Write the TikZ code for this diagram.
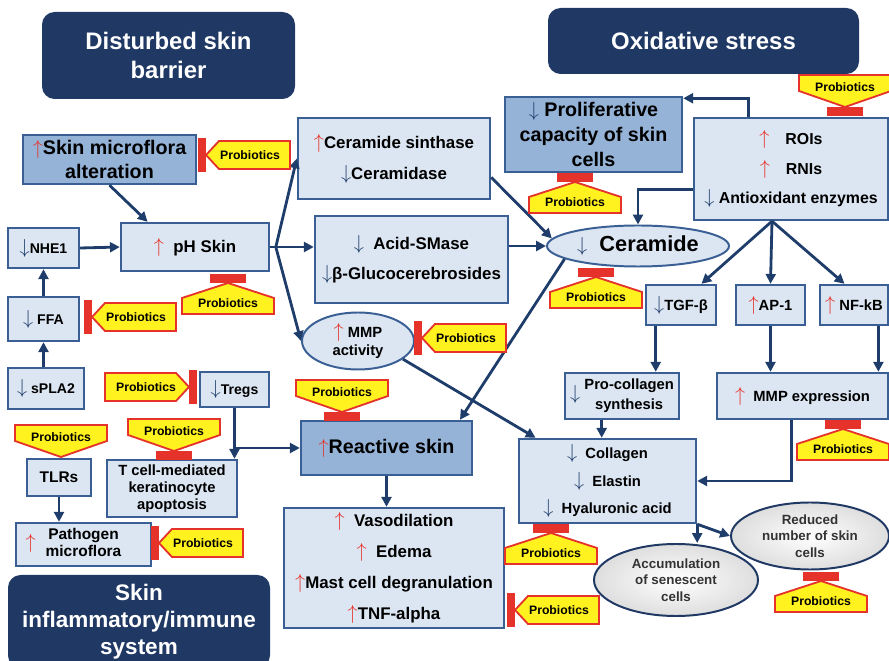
\documentclass[tikz,border=0pt]{standalone}
\usepackage{fontspec}
\setmainfont{Liberation Sans}
\usetikzlibrary{arrows.meta,shapes.geometric}

\definecolor{navy}{HTML}{1F3864}
\definecolor{boxline}{HTML}{3A5F94}
\definecolor{boxfill}{HTML}{DCE6F2}
\definecolor{boxdark}{HTML}{95B3D7}
\definecolor{connline}{HTML}{1F3D6B}
\definecolor{tagyellow}{HTML}{FFF21F}
\definecolor{tagred}{HTML}{E5322A}

\newcommand{\px}{0.025cm}
\newcommand{\upar}{{\color{tagred}\fontsize{14.4}{14.4}\selectfont$\uparrow$}}
\newcommand{\dnar}{{\color{connline}\fontsize{14.4}{14.4}\selectfont$\downarrow$}}

\tikzset{
		lbox/.style     = {shape=rectangle, draw=boxline, line width=1.7pt,
				fill=boxfill, align=center, inner sep=1pt,
				font=\fontsize{12}{14}\selectfont\bfseries},
		dbox/.style     = {lbox, fill=boxdark, font=\fontsize{14}{17}\selectfont\bfseries},
		oval/.style     = {ellipse, draw=boxline, line width=1.4pt, fill=boxfill,
				align=center, inner sep=0pt},
		greyoval/.style = {ellipse, draw=navy, line width=1.4pt, inner color=white,
				outer color=black!13, align=center, inner sep=0pt, text=black!80,
				font=\fontsize{9.5}{11.7}\selectfont\bfseries},
		header/.style   = {rounded corners=9pt, fill=navy, text=white, align=center,
				font=\fontsize{17}{20.5}\selectfont\bfseries},
		conn/.style     = {draw=connline, line width=2pt, -{Triangle[length=7pt,width=7pt]}},
		plain/.style    = {draw=connline, line width=2pt},
		probtag/.style  = {draw=tagred, line width=1.3pt, fill=tagyellow},
		inhib/.style    = {fill=tagred},
		probtext/.style = {inner sep=0pt, font=\fontsize{8.7}{10}\selectfont\bfseries}
	}

% probiotics tags: name, tip x, tip y
\newcommand{\probL}[3]{%
	\fill[inhib] (#2-8,#3-17) rectangle (#2,#3+17);
	\draw[probtag] (#2,#3) -- (#2+13,#3-14) -- (#2+84,#3-14) -- (#2+84,#3+14) -- (#2+13,#3+14) -- cycle;
	\node[probtext] (#1) at (#2+44,#3) {Probiotics};}
\newcommand{\probR}[3]{%
	\fill[inhib] (#2,#3-17) rectangle (#2+8,#3+17);
	\draw[probtag] (#2,#3) -- (#2-13,#3-14) -- (#2-84,#3-14) -- (#2-84,#3+14) -- (#2-13,#3+14) -- cycle;
	\node[probtext] (#1) at (#2-43,#3) {Probiotics};}
\newcommand{\probU}[3]{%
	\fill[inhib] (#2-18,#3-9) rectangle (#2+18,#3);
	\draw[probtag] (#2,#3) -- (#2+46,#3+15) -- (#2+46,#3+31) -- (#2-46,#3+31) -- (#2-46,#3+15) -- cycle;
	\node[probtext] (#1) at (#2,#3+20) {Probiotics};}
\newcommand{\probDtag}[3]{%
	\draw[probtag] (#2,#3) -- (#2+46,#3-16) -- (#2+46,#3-32) -- (#2-46,#3-32) -- (#2-46,#3-16) -- cycle;
	\node[probtext] (#1) at (#2,#3-20) {Probiotics};}
\newcommand{\probD}[3]{%
	\fill[inhib] (#2-18,#3) rectangle (#2+18,#3+9);
	\probDtag{#1}{#2}{#3}}

\begin{document}
\begin{tikzpicture}[x=\px, y=-\px]
		\useasboundingbox (0,0) rectangle (889,661);
		\clip (0,0) rectangle (889,661);

		% headers
		\node[header, minimum width=253*\px, minimum height=87*\px] (hdrbarrier) at (168.5,55.5) {Disturbed skin\\barrier};
		\node[header, minimum width=311*\px, minimum height=66*\px] (hdroxid) at (703.5,41) {Oxidative stress};
		\node[header, minimum width=262*\px, minimum height=93*\px,
			font=\fontsize{16}{19}\selectfont\bfseries] (hdrimmune) at (139,621.5) {Skin\\inflammatory/immune\\system};

		% disturbed skin barrier
		\node[dbox, minimum width=173*\px, minimum height=49*\px] (micro) at (109.5,159.5) {\upar Skin microflora\\alteration};
		\node[lbox, minimum width=71*\px, minimum height=40*\px, font=\fontsize{10}{12}\selectfont\bfseries] (nhe) at (43.5,248) {\dnar NHE1};
		\node[lbox, minimum width=148*\px, minimum height=48*\px] (ph) at (195,247) {\upar\ \ pH Skin};
		\node[lbox, minimum width=71*\px, minimum height=44*\px, font=\fontsize{10}{12}\selectfont\bfseries] (ffa) at (43.5,319) {\dnar\ FFA};
		\node[lbox, minimum width=76*\px, minimum height=41*\px, font=\fontsize{10}{12}\selectfont\bfseries] (spla) at (46,388.5) {\dnar\ sPLA2};
		\node[lbox, minimum width=192*\px, minimum height=81*\px] (cersyn) at (394,158.5) {\upar Ceramide sinthase\\[8pt]\dnar Ceramidase};
		\node[lbox, minimum width=193*\px, minimum height=87*\px] (acid) at (411.5,259.5) {\dnar\ \ Acid-SMase\\[7pt]\dnar β-Glucocerebrosides};
		\node[oval, minimum width=112*\px, minimum height=57*\px, font=\fontsize{10.5}{12.5}\selectfont\bfseries] (mmpact) at (358,341) {\upar\ MMP\\activity};

		% skin inflammatory/immune system
		\node[lbox, minimum width=69*\px, minimum height=35*\px, font=\fontsize{10}{12}\selectfont\bfseries] (tregs) at (234.5,389.5) {\dnar Tregs};
		\node[lbox, minimum width=64*\px, minimum height=37*\px, font=\fontsize{11}{13}\selectfont\bfseries] (tlrs) at (59,477.5) {TLRs};
		\node[lbox, minimum width=130*\px, minimum height=57*\px, font=\fontsize{10.5}{12}\selectfont\bfseries] (tcell) at (172,488.5) {T cell-mediated\\keratinocyte\\apoptosis};
		\node[lbox, minimum width=135*\px, minimum height=43*\px, font=\fontsize{11}{12.5}\selectfont\bfseries] (pathog) at (83.5,544.5)
			{\llap{\upar\hspace{7pt}}\begin{tabular}{@{}c@{}}Pathogen\\microflora\end{tabular}};
		\node[dbox, minimum width=171*\px, minimum height=54*\px] (react) at (386.5,448) {\upar Reactive skin};
		\node[lbox, minimum width=220*\px, minimum height=120*\px] (vaso) at (394,568)
			{\upar\ \ Vasodilation\\[8pt]\upar\ \ Edema\\[8pt]\upar Mast cell degranulation\\[8pt]\upar TNF-alpha};

		% oxidative stress
		\node[dbox, minimum width=177*\px, minimum height=75*\px, font=\fontsize{14}{17.5}\selectfont\bfseries] (prolif) at (593.5,134.5) {\dnar\ Proliferative\\capacity of skin\\cells};
		\node[lbox, minimum width=194*\px, minimum height=102*\px, font=\fontsize{11.3}{14}\selectfont\bfseries] (rois) at (791,169)
			{\upar\quad ROIs\\[7pt]\upar\quad RNIs\\[7pt]\dnar\ Antioxidant enzymes};
		\node[oval, minimum width=182*\px, minimum height=41*\px, font=\fontsize{15.5}{18}\selectfont\bfseries] (cer) at (638,246) {\dnar\ \ Ceramide};
		\node[lbox, minimum width=70*\px, minimum height=40*\px, font=\fontsize{10.5}{12.5}\selectfont\bfseries] (tgf) at (681,305) {\dnar TGF-β};
		\node[lbox, minimum width=69*\px, minimum height=40*\px, font=\fontsize{10.5}{12.5}\selectfont\bfseries] (apone) at (770.5,305) {\upar AP-1};
		\node[lbox, minimum width=68*\px, minimum height=40*\px, font=\fontsize{10.5}{12.5}\selectfont\bfseries] (nfkb) at (854,305) {\upar\ NF-kB};
		\node[lbox, minimum width=114*\px, minimum height=46*\px, font=\fontsize{10.5}{12.5}\selectfont\bfseries] (procol) at (622,396)
			{\dnar\ \begin{tabular}{@{}c@{}}Pro-collagen\\[2pt]synthesis\end{tabular}};
		\node[lbox, minimum width=171*\px, minimum height=46*\px, font=\fontsize{10.5}{12.5}\selectfont\bfseries] (mmpexp) at (802.5,396) {\upar\ \ MMP expression};
		\node[lbox, minimum width=177*\px, minimum height=84*\px, font=\fontsize{10.5}{12.6}\selectfont\bfseries] (col) at (607.5,481)
			{\dnar\ \ Collagen\\[6pt]\dnar\ \ Elastin\\[6pt]\dnar\ \ Hyaluronic acid};
		\node[greyoval, minimum width=164*\px, minimum height=72*\px] (accum) at (676,580) {Accumulation\\of senescent\\cells};
		\node[greyoval, minimum width=158*\px, minimum height=67*\px] (reduced) at (810,536) {Reduced\\number of skin\\cells};

		% connectors
		\draw[conn] (micro.south) -- (ph.152);
		\draw[conn] (nhe.east) -- (ph.west);
		\draw[conn] (ffa.north) -- (nhe.south);
		\draw[conn] (ffa.south |- spla.north) -- (ffa.south);
		\coordinate (phfork) at ([xshift=4pt]ph.east);
		\draw[plain] (ph.east) -- (phfork);
		\draw[conn] (phfork) -- (cersyn.west);
		\draw[conn] (phfork) -- (acid.west |- phfork);
		\draw[conn] (phfork) -- (mmpact.west);
		\draw[conn] (cersyn.-11) -- (cer.175);
		\draw[conn] (acid.east |- cer.west) -- (cer.west);
		\draw[conn] (rois.129) |- (prolif.22);
		\draw[conn] (rois.192) -| (cer.north);
		\draw[conn] (rois.250) -- (tgf.46);
		\draw[conn] (rois.250) -- (apone.north);
		\draw[conn] (rois.250) -- (nfkb.114);
		\draw[conn] (tgf.220) -- (tgf.220 |- procol.north);
		\draw[conn] (apone.south) -- (apone.south |- mmpexp.north);
		\draw[conn] (nfkb.-41) -- (nfkb.-41 |- mmpexp.north);
		\draw[conn] (procol.230) -- (procol.230 |- col.north);
		\draw[conn] (mmpexp.245) |- (col.east);
		\draw[conn] (cer.190) -- (react.21);
		\draw[conn] (mmpact.-22) -- (col.149);
		\draw[conn] (tregs.south) -- (tregs.south |- tcell.north);
		\draw[conn] (tregs.south |- react.west) -- (react.west);
		\draw[conn] (tlrs.south) -- (tlrs.south |- pathog.north);
		\draw[conn] (react.south) -- (react.south |- vaso.north);
		\draw[conn] (col.south east) -- (col.south east |- accum.north);
		\draw[conn] (col.south east) -- (reduced.west);

		% probiotics
		\probL{probmicro}{206}{155}
		\probU{probph}{228}{283}
		\probL{probffa}{92}{317}
		\probL{probmmp}{422}{338}
		\probR{probtregs}{189}{387}
		\probDtag{probtlrs}{61}{457}
		\probD{probtcell}{174}{451}
		\probL{probpathog}{159}{543}
		\probD{probreact}{342}{412}
		\probL{probvaso}{515}{610}
		\probU{probcol}{551}{533}
		\probU{probcer}{596}{277}
		\probU{probprolif}{575}{182}
		\probD{probrois}{845}{107}
		\probU{probmmpexp}{843}{429}
		\probU{probreduced}{821}{581}
	\end{tikzpicture}
\end{document}
